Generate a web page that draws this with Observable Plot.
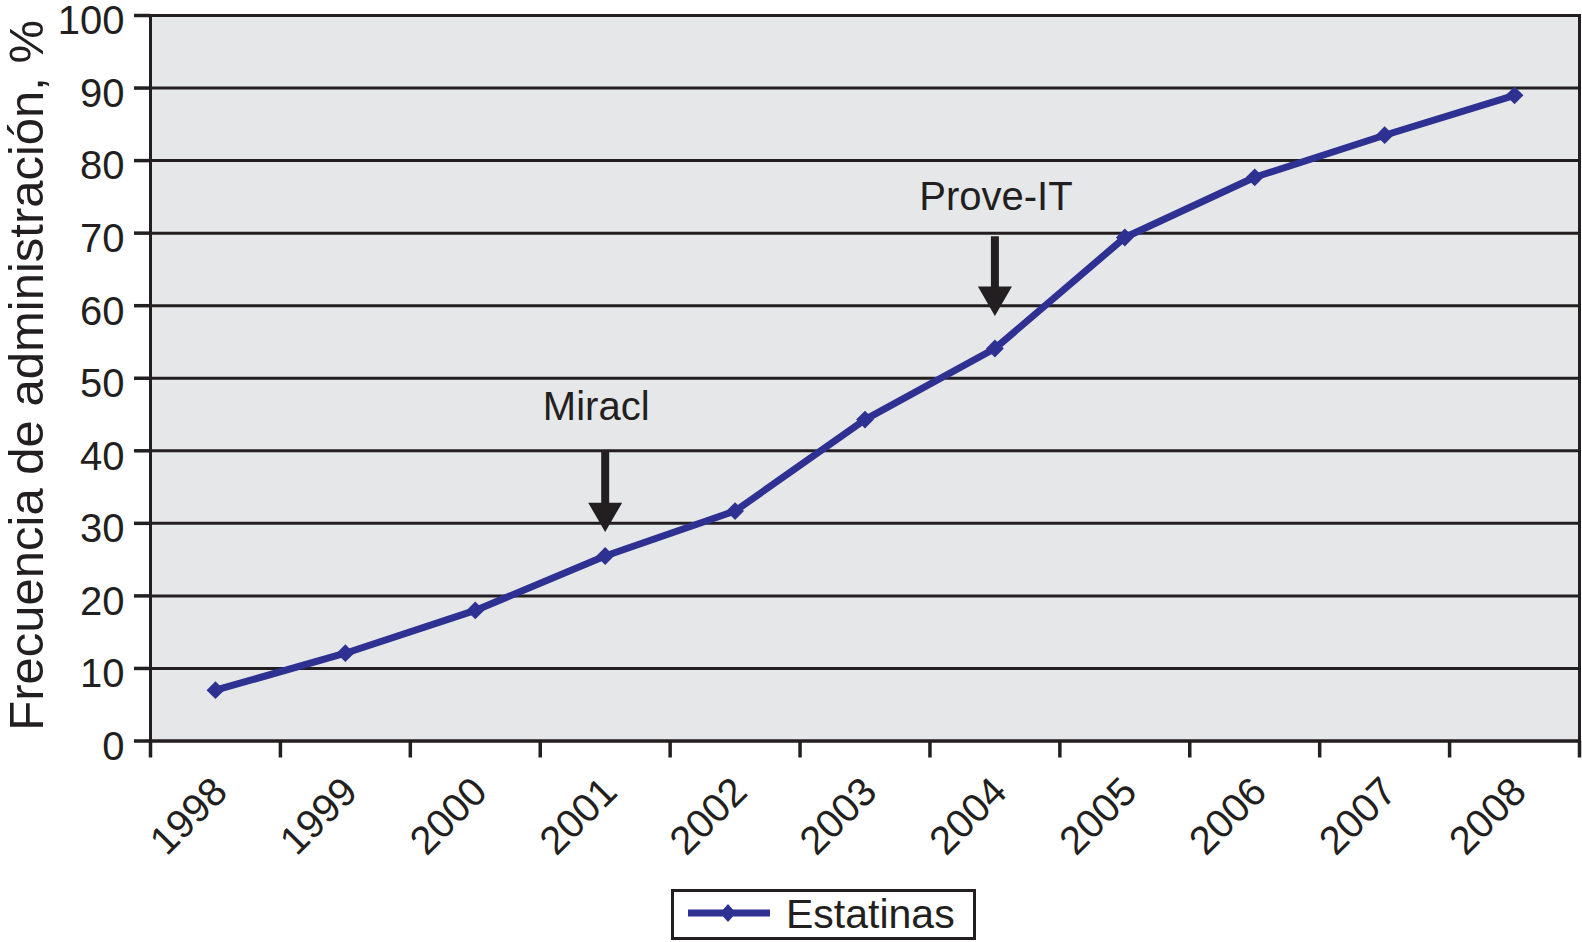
<!DOCTYPE html>
<html>
<head>
<meta charset="utf-8">
<script src="https://cdn.jsdelivr.net/npm/d3@7"></script>
<script src="https://cdn.jsdelivr.net/npm/@observablehq/plot@0.6"></script>
<style>
  html, body { margin: 0; padding: 0; background: #fff; }
  #wrap { position: relative; width: 1582px; height: 942px; font-family: "Liberation Sans", Arial, sans-serif; color: #231f20; }
  #legend { position: absolute; left: 671px; top: 889px; width: 305px; height: 51px; box-sizing: border-box;
            border: 3px solid #231f20; background: #fff; display: flex; align-items: center; }
  #legend span { font-size: 41px; line-height: 1; margin-left: 12px; }
</style>
</head>
<body>
<div id="wrap"></div>
<script>
// ---- data ----
const years = [1998, 1999, 2000, 2001, 2002, 2003, 2004, 2005, 2006, 2007, 2008];
const estatinas = [7.0, 12.1, 18.0, 25.5, 31.7, 44.3, 54.1, 69.4, 77.7, 83.5, 89.0];
const yTicks = [0, 10, 20, 30, 40, 50, 60, 70, 80, 90, 100];
const bandEdges = [1997.5, 1998.5, 1999.5, 2000.5, 2001.5, 2002.5, 2003.5, 2004.5, 2005.5, 2006.5, 2007.5, 2008.5];
const seriesName = "Estatinas";
const yTitle = "Frecuencia de administración, %";

const annotLabels = ["Miracl", "Prove-IT"];
const annotYears = [2001, 2004];
const annotTextY = [46, 74.9];
const arrowTop = [40, 69.5];
const arrowTip = [28.8, 58.6];

// ---- tables ----
const points = years.map((year, i) => ({year, value: estatinas[i]}));
const annots = annotLabels.map((label, i) => ({label, year: annotYears[i], textY: annotTextY[i], top: arrowTop[i], tip: arrowTip[i]}));

const ink = "#231f20";
const blue = "#2e3192";

const chart = Plot.plot({
  width: 1582,
  height: 870,
  marginLeft: 150,
  marginRight: 3,
  marginTop: 15,
  marginBottom: 129.5,
  style: {fontFamily: "'Liberation Sans', Arial, sans-serif", fontSize: "40px", color: ink, background: "transparent", overflow: "visible"},
  x: {domain: [1997.5, 2008.5]},
  y: {domain: [0, 100]},
  marks: [
    Plot.frame({fill: "#e6e7e8"}),
    Plot.ruleY(yTicks, {stroke: ink, strokeWidth: 3}),
    Plot.frame({stroke: ink, strokeWidth: 3}),
    Plot.axisY(yTicks, {tickSize: 16, strokeWidth: 3.5, stroke: ink, fill: "none", label: null}),
    Plot.axisY(yTicks, {tickSize: 0, tickPadding: 26, dy: 6, fill: ink, fontSize: 40, label: null}),
    Plot.axisX(bandEdges, {tickSize: 17, strokeWidth: 3.5, stroke: ink, fill: "none", label: null}),
    Plot.axisX(years, {tickSize: 0, tickRotate: -45, tickPadding: 44, dx: 5, fill: ink, fontSize: 40, tickFormat: d => String(d), label: null}),
    Plot.text([yTitle], {frameAnchor: "left", textAnchor: "middle", rotate: -90, dx: -123, dy: -3, fontSize: 49, fill: ink, text: d => d}),
    Plot.line(points, {x: "year", y: "value", stroke: blue, strokeWidth: 7, strokeLinejoin: "round"}),
    Plot.dot(points, {x: "year", y: "value", symbol: "diamond2", r: 8, fill: blue, stroke: "none"}),
    Plot.ruleX(annots, {x: "year", y1: "top", y2: d => d.tip + 2.5, stroke: ink, strokeWidth: 8}),
    Plot.dot(annots, {x: "year", y: "tip", symbol: "triangle", r: 12.62, rotate: 180, dy: -19.6, fill: ink, stroke: "none"}),
    Plot.text(annots, {filter: d => d.label === "Miracl", x: "year", y: "textY", text: "label", fontSize: 40, fill: ink, dx: -9}),
    Plot.text(annots, {filter: d => d.label === "Prove-IT", x: "year", y: "textY", text: "label", fontSize: 40, fill: ink, dx: 1})
  ]
});

const wrap = document.getElementById("wrap");
wrap.appendChild(chart);

const legend = document.createElement("div");
legend.id = "legend";
legend.innerHTML = `<svg width="100" height="45" style="flex:none"><line x1="14" x2="96" y1="21" y2="21" stroke="${blue}" stroke-width="7"/><polygon points="54,12 62,21 54,30 46,21" fill="${blue}"/></svg><span>${seriesName}</span>`;
wrap.appendChild(legend);
</script>
</body>
</html>
